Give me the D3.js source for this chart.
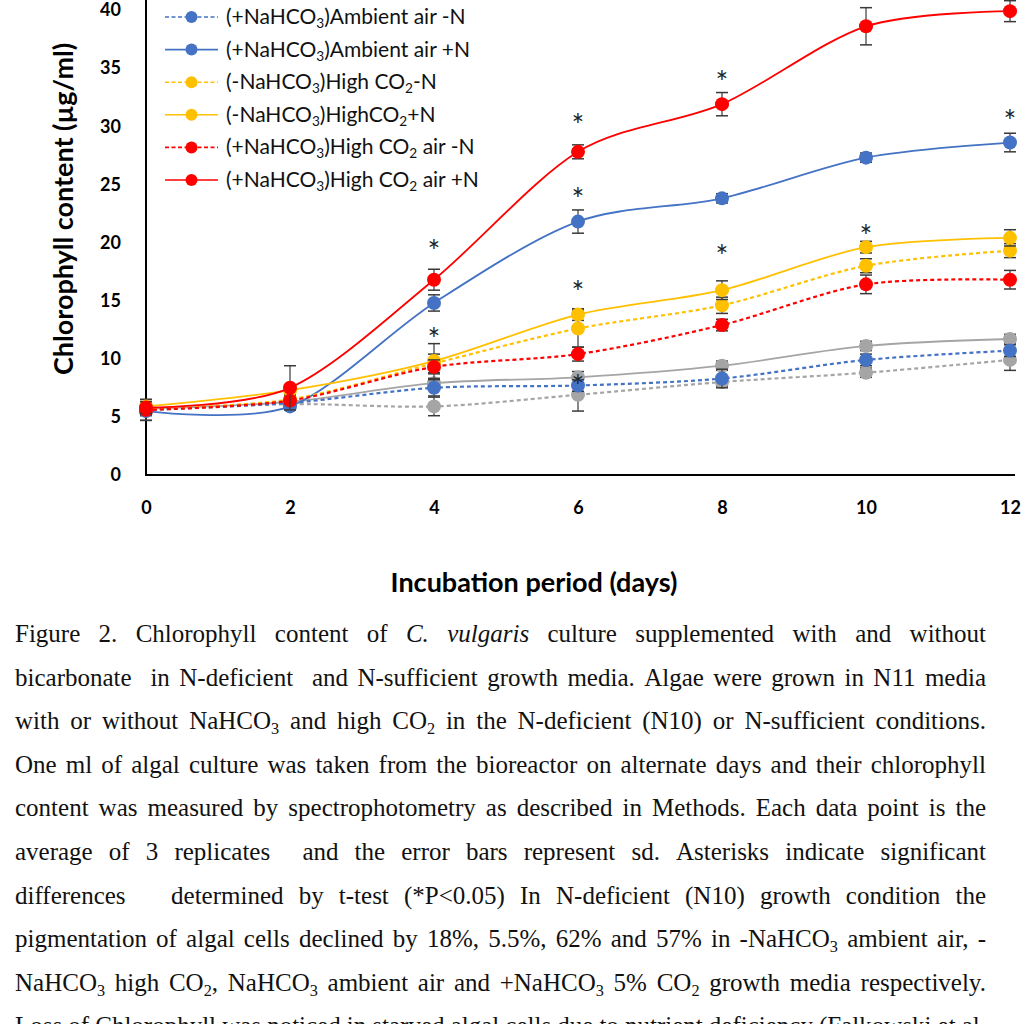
<!DOCTYPE html>
<html>
<head>
<meta charset="utf-8">
<script src="https://cdn.jsdelivr.net/npm/d3@7"></script>
<style>
  html, body { margin: 0; padding: 0; background: #fff; }
  svg { display: block; }
</style>
</head>
<body>
<script>
// ---------------- DATA ----------------
const days = [0, 2, 4, 6, 8, 10, 12];
const xTicks = [0, 2, 4, 6, 8, 10, 12];
const yTicks = [0, 5, 10, 15, 20, 25, 30, 35, 40];

const seriesNames = [
  "(-NaHCO₃)Ambient air -N",
  "(-NaHCO₃)Ambient air +N",
  "(+NaHCO₃)Ambient air -N",
  "(+NaHCO₃)Ambient air +N",
  "(-NaHCO₃)High CO₂-N",
  "(-NaHCO₃)HighCO₂+N",
  "(+NaHCO₃)High CO₂ air -N",
  "(+NaHCO₃)High CO₂ air +N"
];
const seriesColors = ["#A5A5A5", "#A5A5A5", "#4472C4", "#4472C4", "#FFC000", "#FFC000", "#FF0000", "#FF0000"];
const seriesDashed = [true, false, true, false, true, false, true, false];
const legendShown = [false, false, true, true, true, true, true, true];

const grayDashVals  = [5.6, 6.1, 5.9, 6.9, 8.0, 8.8, 9.9];
const grayDashErr   = [0.9, 0.3, 0.8, 1.4, 0.4, 0.4, 0.9];
const graySolidVals = [5.7, 6.3, 7.9, 8.4, 9.4, 11.1, 11.7];
const graySolidErr  = [0.4, 0.3, 0.4, 0.5, 0.4, 0.4, 0.4];
const blueDashVals  = [5.6, 6.2, 7.5, 7.7, 8.3, 9.9, 10.7];
const blueDashErr   = [0.9, 0.3, 0.7, 0.5, 0.8, 0.5, 0.5];
const blueSolidVals = [5.5, 5.9, 14.8, 21.8, 23.8, 27.3, 28.6];
const blueSolidErr  = [0.4, 0.3, 0.7, 1.0, 0.4, 0.4, 0.8];
const yelDashVals   = [5.7, 6.5, 9.6, 12.6, 14.6, 18.0, 19.3];
const yelDashErr    = [0.4, 0.3, 0.8, 1.6, 0.7, 0.6, 0.6];
const yelSolidVals  = [5.9, 7.3, 9.8, 13.8, 15.9, 19.6, 20.4];
const yelSolidErr   = [0.4, 0.4, 1.5, 0.5, 0.8, 0.5, 0.7];
const redDashVals   = [5.6, 6.4, 9.3, 10.4, 12.9, 16.4, 16.8];
const redDashErr    = [0.4, 0.3, 0.6, 0.6, 0.5, 0.8, 0.8];
const redSolidVals  = [5.8, 7.5, 16.8, 27.8, 31.9, 38.6, 39.9];
const redSolidErr   = [0.5, 1.9, 0.9, 0.6, 1.0, 1.6, 0.9];

const seriesValues = [grayDashVals, graySolidVals, blueDashVals, blueSolidVals, yelDashVals, yelSolidVals, redDashVals, redSolidVals];
const seriesErrors = [grayDashErr, graySolidErr, blueDashErr, blueSolidErr, yelDashErr, yelSolidErr, redDashErr, redSolidErr];

// significance asterisks: [day, value position]
const starDays   = [4, 4, 6, 6, 6, 6, 8, 8, 10, 12];
const starValues = [19.5, 12.0, 30.4, 24.0, 16.0, 7.9, 34.1, 19.1, 20.8, 30.7];

const yTitle = "Chlorophyll content (µg/ml)";
const xTitle = "Incubation period (days)";

const captionLines = [
  "Figure 2. Chlorophyll content of ~C. ~vulgaris culture supplemented with and without",
  "bicarbonate  in N-deficient  and N-sufficient growth media. Algae were grown in N11 media",
  "with or without NaHCO₃ and high CO₂ in the N-deficient (N10) or N-sufficient conditions.",
  "One ml of algal culture was taken from the bioreactor on alternate days and their chlorophyll",
  "content was measured by spectrophotometry as described in Methods. Each data point is the",
  "average of 3 replicates  and the error bars represent sd. Asterisks indicate significant",
  "differences   determined by t-test (*P<0.05) In N-deficient (N10) growth condition the",
  "pigmentation of algal cells declined by 18%, 5.5%, 62% and 57% in -NaHCO₃ ambient air, -",
  "NaHCO₃ high CO₂, NaHCO₃ ambient air and +NaHCO₃ 5% CO₂ growth media respectively.",
  "Loss of Chlorophyll was noticed in starved algal cells due to nutrient deficiency (Falkowski et al."
];

// ---------------- DRAW ----------------
const W = 1024, H = 1024;
const svg = d3.select("body").append("svg").attr("width", W).attr("height", H);
svg.append("rect").attr("width", W).attr("height", H).attr("fill", "#fff");

const x = d3.scaleLinear().domain([0, 12]).range([146, 1010]);
const y = d3.scaleLinear().domain([0, 40]).range([475, 10]);

const chartFont = "Lato, 'Open Sans', sans-serif";

// rich text helper: subscript digits
const subMap = {"₀":"0","₁":"1","₂":"2","₃":"3","₄":"4","₅":"5","₆":"6","₇":"7","₈":"8","₉":"9"};
function addRich(textSel, str, subScale, subShift) {
  const runs = [];
  for (const ch of str) {
    const isSub = ch in subMap;
    const c = isSub ? subMap[ch] : ch;
    if (runs.length && runs[runs.length - 1].sub === isSub) runs[runs.length - 1].t += c;
    else runs.push({ t: c, sub: isSub });
  }
  let shifted = false;
  runs.forEach(r => {
    const ts = textSel.append("tspan").text(r.t);
    if (r.sub) { ts.attr("font-size", subScale + "em").attr("dy", subShift); shifted = true; }
    else if (shifted) { ts.attr("dy", -subShift); shifted = false; }
  });
}

// axes
const gx = svg.append("g").attr("transform", `translate(0,${y(0)})`)
  .call(d3.axisBottom(x).tickValues(xTicks).tickSize(0).tickPadding(26).tickFormat(d3.format("d")));
gx.select(".domain").remove();
gx.selectAll("text").attr("font-family", chartFont).attr("font-size", 18).attr("font-weight", "bold").attr("fill", "#000");

const gy = svg.append("g").attr("transform", `translate(${x(0)},0)`)
  .call(d3.axisLeft(y).tickValues(yTicks).tickSize(0).tickPadding(25).tickFormat(d3.format("d")));
gy.select(".domain").remove();
gy.selectAll("text").attr("font-family", chartFont).attr("font-size", 18).attr("font-weight", "bold").attr("fill", "#000");

svg.append("line").attr("x1", x(0)).attr("x2", x(0)).attr("y1", 0).attr("y2", y(0) + 1)
  .attr("stroke", "#000").attr("stroke-width", 2);
svg.append("line").attr("x1", x(0) - 1).attr("x2", 1015).attr("y1", y(0)).attr("y2", y(0))
  .attr("stroke", "#000").attr("stroke-width", 2);

// series
const line = d3.line().x((d, i) => x(days[i])).y(d => y(d)).curve(d3.curveCardinal.tension(0.1));
const plot = svg.append("g");
seriesValues.forEach((vals, s) => {
  const g = plot.append("g");
  const col = seriesColors[s];
  const err = seriesErrors[s];
  vals.forEach((v, i) => {
    const cx = x(days[i]);
    const yt = y(v + err[i]), yb = y(v - err[i]);
    g.append("line").attr("x1", cx).attr("x2", cx).attr("y1", yt).attr("y2", yb).attr("stroke", "#3a3a3a").attr("stroke-width", 1.2);
    g.append("line").attr("x1", cx - 6).attr("x2", cx + 6).attr("y1", yt).attr("y2", yt).attr("stroke", "#3a3a3a").attr("stroke-width", 1.5);
    g.append("line").attr("x1", cx - 6).attr("x2", cx + 6).attr("y1", yb).attr("y2", yb).attr("stroke", "#3a3a3a").attr("stroke-width", 1.5);
  });
  g.append("path").attr("d", line(vals)).attr("fill", "none").attr("stroke", col)
    .attr("stroke-width", seriesDashed[s] ? 2.2 : 1.8)
    .attr("stroke-dasharray", seriesDashed[s] ? "4,3" : null);
  g.selectAll("circle").data(vals).join("circle")
    .attr("cx", (d, i) => x(days[i])).attr("cy", d => y(d)).attr("r", 7).attr("fill", col);
});

// asterisks
svg.append("g").selectAll("text").data(starDays).join("text")
  .attr("x", (d) => x(d)).attr("y", (d, i) => y(starValues[i]) + 14)
  .attr("text-anchor", "middle").attr("font-family", chartFont).attr("font-size", 30).attr("fill", "#222")
  .text("*");

// legend
const legend = svg.append("g");
let li = 0;
seriesNames.forEach((name, s) => {
  if (!legendShown[s]) return;
  const cy = 17 + li * 32.6;
  li++;
  legend.append("line").attr("x1", 165).attr("x2", 218).attr("y1", cy).attr("y2", cy)
    .attr("stroke", seriesColors[s]).attr("stroke-width", 1.6)
    .attr("stroke-dasharray", seriesDashed[s] ? "4,2.5" : null);
  legend.append("circle").attr("cx", 191.5).attr("cy", cy).attr("r", 6).attr("fill", seriesColors[s]);
  const t = legend.append("text").attr("x", 226).attr("y", cy + 7)
    .attr("font-family", chartFont).attr("font-size", 21).attr("fill", "#111");
  addRich(t, name, 0.65, 4);
});

// axis titles
svg.append("text").attr("transform", `translate(66,209) rotate(-90)`)
  .attr("text-anchor", "middle").attr("dominant-baseline", "middle")
  .attr("font-family", chartFont).attr("font-size", 27).attr("font-weight", "bold").attr("fill", "#000")
  .text(yTitle);
svg.append("text").attr("x", 534).attr("y", 592)
  .attr("text-anchor", "middle")
  .attr("font-family", chartFont).attr("font-size", 27).attr("font-weight", "bold").attr("fill", "#000")
  .text(xTitle);

// caption, justified
const capLeft = 15, capRight = 986, capTop = 642, capStep = 43.6;
const cap = svg.append("g").attr("font-family", "'Liberation Serif', 'Times New Roman', serif")
  .attr("font-size", 25).attr("fill", "#111");
captionLines.forEach((ln, li2) => {
  const yy = capTop + li2 * capStep;
  const words = ln.split(/ +/);
  const gaps = (ln.match(/ +/g) || []).map(s => s.length);
  const nodes = words.map(w => {
    const italic = w.startsWith("~");
    const str = italic ? w.slice(1) : w;
    const t = cap.append("text").attr("x", 0).attr("y", yy);
    if (italic) t.attr("font-style", "italic");
    addRich(t, str, 0.65, 5);
    return t;
  });
  const widths = nodes.map(n => n.node().getComputedTextLength());
  const total = d3.sum(widths);
  const unit = gaps.length ? (capRight - capLeft - total) / d3.sum(gaps) : 0;
  let cx = capLeft;
  nodes.forEach((n, i) => {
    n.attr("x", cx);
    n.selectAll("tspan").filter((d, j) => j === 0).attr("x", cx);
    cx += widths[i] + (i < gaps.length ? gaps[i] * unit : 0);
  });
});
</script>
</body>
</html>
